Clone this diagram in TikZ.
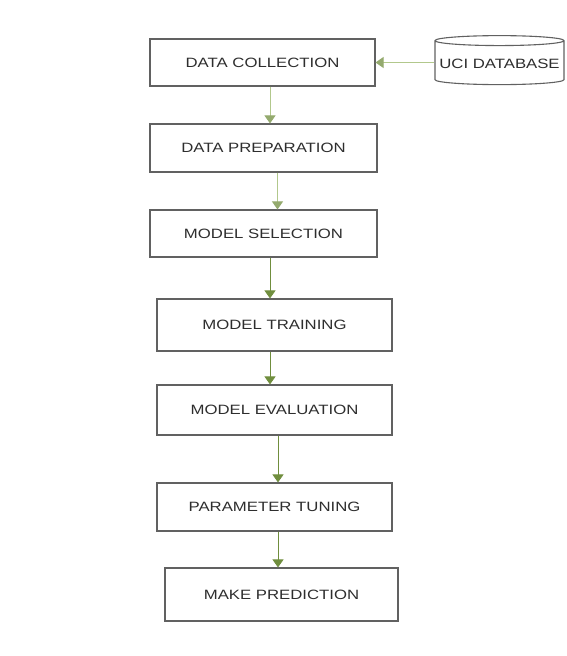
\documentclass[tikz,border=0pt]{standalone}
\usepackage{xcolor}
\usepackage{fontspec}
\newfontfamily\boxfont[FakeStretch=1.24]{Liberation Sans}
\usepackage{tikz}
\usetikzlibrary{
  shapes.geometric, arrows.meta, positioning, calc
}
\definecolor{flowgreen}{RGB}{112,142,62}
\definecolor{flowlight}{RGB}{178,200,140}
\tikzset{
  %% Process box
  pbox/.style={
    rectangle, draw=black!62, fill=white,
    line width=1.1pt, text=black!82,
    font=\boxfont\fontsize{13.5}{15}\selectfont,
    inner sep=2pt
  },
  %% Database cylinder
  dbase/.style={
    cylinder, shape border rotate=90, aspect=0.08,
    draw=black!62, fill=white, line width=1.1pt,
    text=black!82, font=\boxfont\fontsize{13.5}{15}\selectfont,
    inner sep=2pt
  },
  %% Arrows
  arr/.style={-{Triangle[length=8pt,width=11pt]},
              draw=flowgreen, line width=0.9pt},
  larr/.style={-{Triangle[length=8pt,width=11pt,color=flowgreen!75]},
               draw=flowlight, line width=0.9pt},
}

\begin{document}
\begin{tikzpicture}[x=1pt, y=-1pt]
  \useasboundingbox (0,0) rectangle (566,656);

  %% Pipeline stages
  \node[pbox, minimum width=225pt, minimum height=47pt] (coll) at (262.5,62.5)
       {DATA COLLECTION};
  \node[pbox, minimum width=227pt, minimum height=48pt] (prep) at (263.5,148)
       {DATA PREPARATION};
  \node[pbox, minimum width=227pt, minimum height=47pt] (sel)  at (263.5,233.5)
       {MODEL SELECTION};
  \node[pbox, minimum width=235pt, minimum height=52pt] (train) at (274.5,325)
       {MODEL TRAINING};
  \node[pbox, minimum width=235pt, minimum height=50pt] (eval) at (274.5,410)
       {MODEL EVALUATION};
  \node[pbox, minimum width=235pt, minimum height=48pt] (tune) at (274.5,507)
       {PARAMETER TUNING};
  \node[pbox, minimum width=233pt, minimum height=53pt] (pred) at (281.5,594.5)
       {MAKE PREDICTION};

  %% Data source
  \node[dbase, minimum width=129pt, minimum height=49pt] (uci) at (499.5,63.5)
       {UCI DATABASE};

  %% Connectors
  \draw[larr] (uci.west |- coll.east) -- (coll.east);
  \draw[larr] ([xshift=7.5pt]coll.south) -- ([xshift=7.5pt]coll.south |- prep.north);
  \draw[larr] ([xshift=14pt]prep.south) -- ([xshift=14pt]prep.south |- sel.north);
  \draw[arr]  ([xshift=6.5pt]sel.south) -- ([xshift=6.5pt]sel.south |- train.north);
  \draw[arr]  ([xshift=-4.5pt]train.south) -- ([xshift=-4.5pt]train.south |- eval.north);
  \draw[arr]  ([xshift=3.5pt]eval.south) -- ([xshift=3.5pt]eval.south |- tune.north);
  \draw[arr]  ([xshift=3.5pt]tune.south) -- ([xshift=3.5pt]tune.south |- pred.north);

\end{tikzpicture}
\end{document}
